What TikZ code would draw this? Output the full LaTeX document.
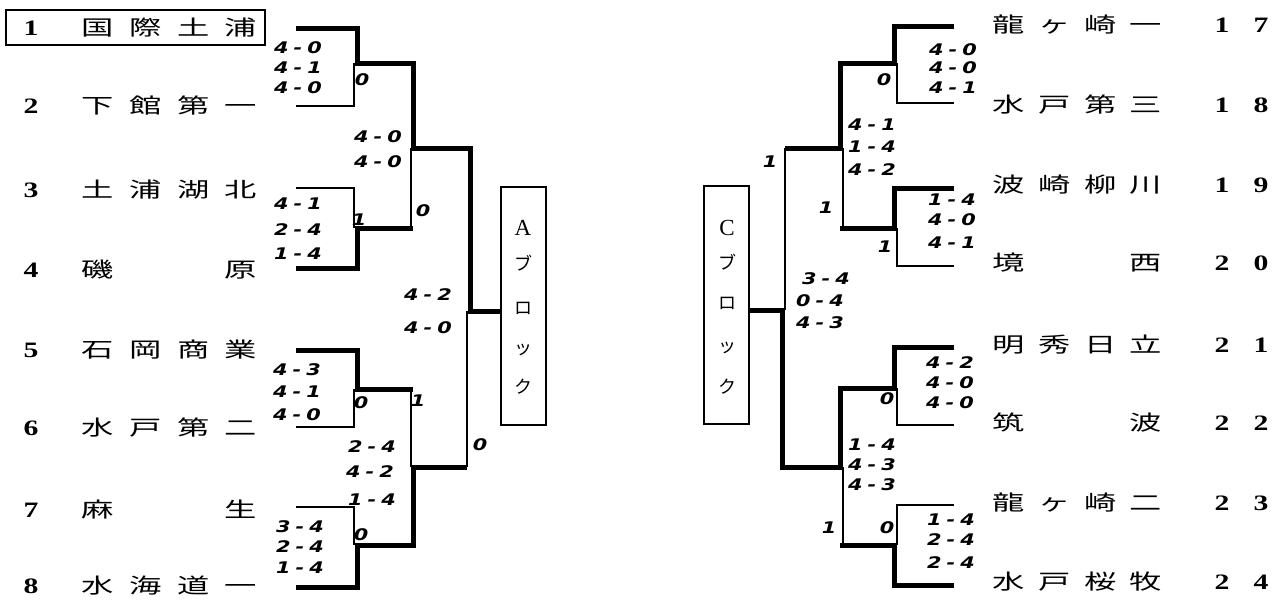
\documentclass[tikz,border=0pt]{standalone}
\usepackage{fontspec}
\usepackage{graphicx}
\setmainfont{Liberation Serif}
\newfontfamily\jpn{Noto Sans CJK JP}
\newfontfamily\hwf{DejaVu Sans}[FakeStretch=1.3]
\newcommand\myscore[2]{#1\kern5pt-\kern5pt#2}
\newcommand\wc[1]{\scalebox{1.7}[1.1]{#1}}
\newcommand\wdig[1]{\scalebox{1.35}[1]{#1}}
\newcommand\lname[1]{\makebox[176pt][s]{#1}}
\newcommand\rname[1]{\makebox[170pt][s]{#1}}
\newcommand\fourl[4]{\lname{\wc{#1}\hfill\wc{#2}\hfill\wc{#3}\hfill\wc{#4}}}
\newcommand\twol[2]{\lname{\wc{#1}\hfill\wc{#2}}}
\newcommand\fourr[4]{\rname{\wc{#1}\hfill\wc{#2}\hfill\wc{#3}\hfill\wc{#4}}}
\newcommand\twor[2]{\rname{\wc{#1}\hfill\wc{#2}}}
\newcommand\rnum[2]{\makebox[54pt][s]{\wdig{#1}\hfill\wdig{#2}}}
\tikzset{
  lost/.style={line width=1.4pt, line join=miter},
  won/.style={line width=5pt, line join=miter},
  tname/.style={anchor=west, inner sep=0pt, font=\fontsize{19pt}{19pt}\jpn},
  tnum/.style={inner sep=0pt, font=\fontsize{22pt}{22pt}\selectfont\bfseries},
  score/.style={inner sep=0pt, font=\fontsize{16pt}{16pt}\hwf\bfseries\itshape},
  cnt/.style={inner sep=0pt, font=\fontsize{16pt}{16pt}\hwf\bfseries\itshape},
  blockbox/.style={draw, line width=1.4pt, inner sep=0pt, minimum width=45pt, minimum height=238pt},
  kata/.style={inner sep=0pt, font=\fontsize{18pt}{18pt}\jpn},
  lat/.style={inner sep=0pt, font=\fontsize{23pt}{23pt}\selectfont}
}
\begin{document}
\begin{tikzpicture}[x=1pt,y=-1pt]
\fill[white] (0,0) rectangle (1285,600);
\useasboundingbox (0,0) rectangle (1285,600);

% ---------- left teams ----------
\node[draw, line width=1.4pt, inner sep=0pt, minimum width=259pt, minimum height=35pt] (box1) at (135.5,27.5) {};
\node[tnum] (n1) at (31,28) {\wdig{1}};
\node[tname] (t1) at (81,28) {\fourl{国}{際}{土}{浦}};
\node[tnum] (n2) at (31,106) {\wdig{2}};
\node[tname] (t2) at (81,106) {\fourl{下}{館}{第}{一}};
\node[tnum] (n3) at (31,190) {\wdig{3}};
\node[tname] (t3) at (81,190) {\fourl{土}{浦}{湖}{北}};
\node[tnum] (n4) at (31,270) {\wdig{4}};
\node[tname] (t4) at (81,270) {\twol{磯}{原}};
\node[tnum] (n5) at (31,350) {\wdig{5}};
\node[tname] (t5) at (81,350) {\fourl{石}{岡}{商}{業}};
\node[tnum] (n6) at (31,428) {\wdig{6}};
\node[tname] (t6) at (81,428) {\fourl{水}{戸}{第}{二}};
\node[tnum] (n7) at (31,510) {\wdig{7}};
\node[tname] (t7) at (81,510) {\twol{麻}{生}};
\node[tnum] (n8) at (31,586) {\wdig{8}};
\node[tname] (t8) at (81,586) {\fourl{水}{海}{道}{一}};

% ---------- right teams ----------
\node[tname] (t17) at (992,25) {\fourr{龍}{ヶ}{崎}{一}};
\node[tnum] (n17) at (1241.5,25) {\rnum{1}{7}};
\node[tname] (t18) at (992,105) {\fourr{水}{戸}{第}{三}};
\node[tnum] (n18) at (1241.5,105) {\rnum{1}{8}};
\node[tname] (t19) at (992,185) {\fourr{波}{崎}{柳}{川}};
\node[tnum] (n19) at (1241.5,185) {\rnum{1}{9}};
\node[tname] (t20) at (992,263) {\twor{境}{西}};
\node[tnum] (n20) at (1241.5,263) {\rnum{2}{0}};
\node[tname] (t21) at (992,345) {\fourr{明}{秀}{日}{立}};
\node[tnum] (n21) at (1241.5,345) {\rnum{2}{1}};
\node[tname] (t22) at (992,423) {\twor{筑}{波}};
\node[tnum] (n22) at (1241.5,423) {\rnum{2}{2}};
\node[tname] (t23) at (992,503) {\fourr{龍}{ヶ}{崎}{二}};
\node[tnum] (n23) at (1241.5,503) {\rnum{2}{3}};
\node[tname] (t24) at (992,582) {\fourr{水}{戸}{桜}{牧}};
\node[tnum] (n24) at (1241.5,582) {\rnum{2}{4}};

% ---------- block boxes ----------
\node[blockbox] (boxA) at (523.5,306) {};
\node[lat] (bA1) at (523,228) {A};
\node[kata] (bA2) at (523,263) {ブ};
\node[kata] (bA3) at (523,308) {ロ};
\node[kata] (bA4) at (523,350) {ッ};
\node[kata] (bA5) at (523,387) {ク};
\node[blockbox] (boxC) at (726.5,305) {};
\node[lat] (bC1) at (727,228) {C};
\node[kata] (bC2) at (727,262) {ブ};
\node[kata] (bC3) at (727,303) {ロ};
\node[kata] (bC4) at (727,348) {ッ};
\node[kata] (bC5) at (727,387) {ク};

% ---------- left bracket coordinates ----------
\coordinate (a1) at (296,28);  \coordinate (a2) at (296,106);
\coordinate (a3) at (296,188); \coordinate (a4) at (296,268);
\coordinate (a5) at (296,350); \coordinate (a6) at (296,427);
\coordinate (a7) at (296,507); \coordinate (a8) at (296,587);
\coordinate (j1) at (357,63);  \coordinate (j1t) at (354,63);
\coordinate (j2) at (357,228); \coordinate (j2t) at (354,228);
\coordinate (j3) at (357,389); \coordinate (j3t) at (354,389);
\coordinate (j4) at (357,545); \coordinate (j4t) at (354,545);
\coordinate (k1) at (413,148); \coordinate (k1t) at (411,148);
\coordinate (k2) at (413,467); \coordinate (k2t) at (411,467);
\coordinate (f1) at (470,311); \coordinate (f1t) at (467,311);

\draw[won] (a1) -| (j1) -| (k1) -| (f1) -- (f1 -| boxA.west);
\draw[lost] (a2) -| (j1t);
\draw[lost] (a3) -| (j2t);
\draw[won] (a4) -| (j2) -- (j2 -| k1);
\draw[lost] (j2 -| k1t) -- (k1t);
\draw[won] (a5) -| (j3) -- (j3 -| k2);
\draw[lost] (a6) -| (j3t);
\draw[lost] (a7) -| (j4t);
\draw[won] (a8) -| (j4) -| (k2) -- (k2 -| f1t);
\draw[lost] (j3 -| k2t) -- (k2t);
\draw[lost] (k2 -| f1t) -- (f1t);

% ---------- right bracket coordinates ----------
\coordinate (b17) at (954,26);  \coordinate (b18) at (954,103);
\coordinate (b19) at (954,188); \coordinate (b20) at (954,266);
\coordinate (b21) at (954,347); \coordinate (b22) at (954,425);
\coordinate (b23) at (954,505); \coordinate (b24) at (954,585);
\coordinate (r1) at (894,63);  \coordinate (r1t) at (897,63);
\coordinate (r2) at (894,228); \coordinate (r2t) at (897,228);
\coordinate (r3) at (894,388); \coordinate (r3t) at (897,388);
\coordinate (r4) at (894,545); \coordinate (r4t) at (897,545);
\coordinate (s1) at (840,148); \coordinate (s1t) at (843,148);
\coordinate (s2) at (840,467); \coordinate (s2t) at (843,467);
\coordinate (g1) at (782,310); \coordinate (g1t) at (785,310);

\draw[won] (b17) -| (r1) -| (s1) -- (s1 -| g1t);
\draw[lost] (b18) -| (r1t);
\draw[won] (b19) -| (r2) -- (r2 -| s1);
\draw[lost] (b20) -| (r2t);
\draw[lost] (r2 -| s1t) -- (s1t);
\draw[won] (b21) -| (r3) -| (s2) -| (g1) -- (g1 -| boxC.east);
\draw[lost] (b22) -| (r3t);
\draw[lost] (b23) -| (r4t);
\draw[won] (b24) -| (r4) -- (r4 -| s2);
\draw[lost] (r4 -| s2t) -- (s2t);
\draw[lost] (s1 -| g1t) -- (g1t);

% ---------- left scores ----------
\node[score] (sa1) at (298,48) {\myscore{4}{0}};
\node[score] (sa2) at (298,68) {\myscore{4}{1}};
\node[score] (sa3) at (298,88) {\myscore{4}{0}};
\node[score] (sb1) at (298,204) {\myscore{4}{1}};
\node[score] (sb2) at (298,230) {\myscore{2}{4}};
\node[score] (sb3) at (298,254) {\myscore{1}{4}};
\node[score] (sc1) at (378,137) {\myscore{4}{0}};
\node[score] (sc2) at (378,162) {\myscore{4}{0}};
\node[score] (sd1) at (297,370) {\myscore{4}{3}};
\node[score] (sd2) at (297,392) {\myscore{4}{1}};
\node[score] (sd3) at (297,415) {\myscore{4}{0}};
\node[score] (se1) at (372,447) {\myscore{2}{4}};
\node[score] (se2) at (370,472) {\myscore{4}{2}};
\node[score] (se3) at (372,500) {\myscore{1}{4}};
\node[score] (sf1) at (300,527) {\myscore{3}{4}};
\node[score] (sf2) at (300,547) {\myscore{2}{4}};
\node[score] (sf3) at (300,568) {\myscore{1}{4}};
\node[score] (sg1) at (428,295) {\myscore{4}{2}};
\node[score] (sg2) at (428,328) {\myscore{4}{0}};

\node[cnt] (ca1) at (362,80) {0};
\node[cnt] (ca2) at (359,220) {1};
\node[cnt] (ca3) at (423,211) {0};
\node[cnt] (ca4) at (361,403) {0};
\node[cnt] (ca5) at (418,401) {1};
\node[cnt] (ca6) at (361,535) {0};
\node[cnt] (ca7) at (480,445) {0};

% ---------- right scores ----------
\node[score] (sh1) at (953,50) {\myscore{4}{0}};
\node[score] (sh2) at (953,68) {\myscore{4}{0}};
\node[score] (sh3) at (953,88) {\myscore{4}{1}};
\node[score] (si1) at (952,200) {\myscore{1}{4}};
\node[score] (si2) at (952,220) {\myscore{4}{0}};
\node[score] (si3) at (952,243) {\myscore{4}{1}};
\node[score] (sj1) at (872,125) {\myscore{4}{1}};
\node[score] (sj2) at (872,147) {\myscore{1}{4}};
\node[score] (sj3) at (872,170) {\myscore{4}{2}};
\node[score] (sk1) at (826,279) {\myscore{3}{4}};
\node[score] (sk2) at (820,301) {\myscore{0}{4}};
\node[score] (sk3) at (820,323) {\myscore{4}{3}};
\node[score] (sl1) at (950,363) {\myscore{4}{2}};
\node[score] (sl2) at (950,383) {\myscore{4}{0}};
\node[score] (sl3) at (950,403) {\myscore{4}{0}};
\node[score] (sm1) at (872,445) {\myscore{1}{4}};
\node[score] (sm2) at (872,465) {\myscore{4}{3}};
\node[score] (sm3) at (872,485) {\myscore{4}{3}};
\node[score] (sn1) at (951,520) {\myscore{1}{4}};
\node[score] (sn2) at (951,540) {\myscore{2}{4}};
\node[score] (sn3) at (951,563) {\myscore{2}{4}};

\node[cnt] (cb1) at (884,80) {0};
\node[cnt] (cb2) at (885,247) {1};
\node[cnt] (cb3) at (826,208) {1};
\node[cnt] (cb4) at (770,162) {1};
\node[cnt] (cb5) at (887,399) {0};
\node[cnt] (cb6) at (887,528) {0};
\node[cnt] (cb7) at (829,528) {1};
\end{tikzpicture}
\end{document}
